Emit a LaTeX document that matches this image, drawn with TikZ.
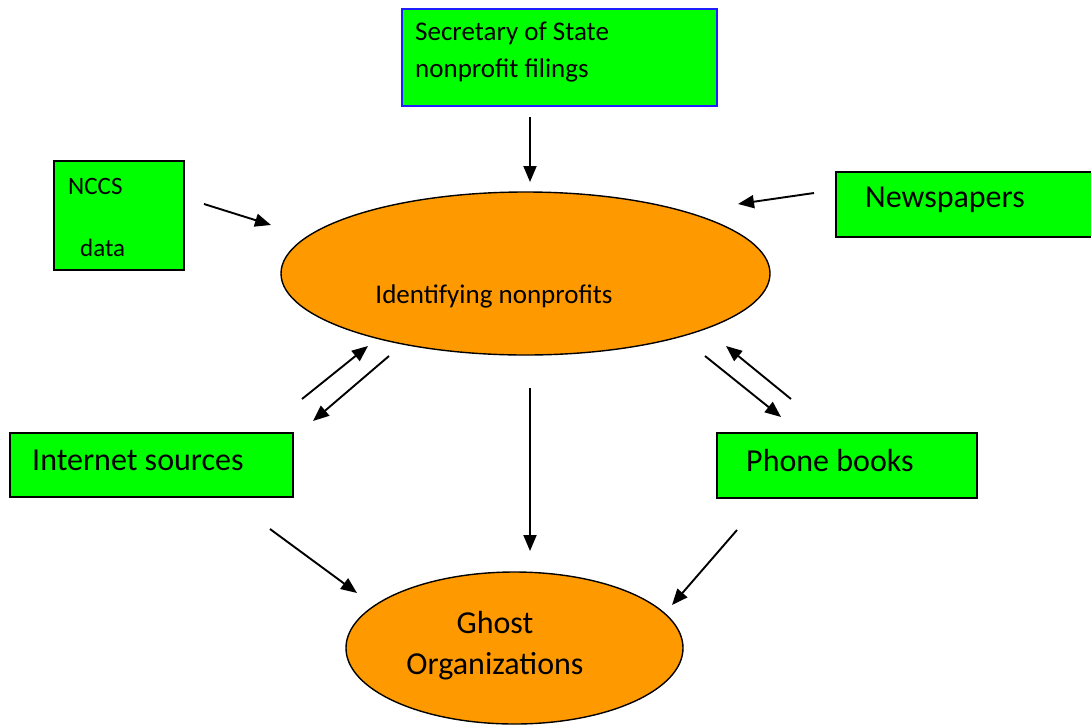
\documentclass[tikz,border=0pt]{standalone}
\usepackage{fontspec}
\setmainfont{Carlito}
\usetikzlibrary{arrows.meta,shapes.geometric}
\definecolor{boxgreen}{RGB}{0,255,0}
\definecolor{ovalorange}{RGB}{255,153,0}
\definecolor{sosblue}{RGB}{30,30,255}
\tikzset{
  srcbox/.style={draw=black, fill=boxgreen, line width=1.6pt},
  oval/.style={ellipse, draw=black, fill=ovalorange, line width=1.4pt, inner sep=0pt},
  lbl/.style={anchor=west, inner sep=0pt, text=black},
  flow/.style={line width=1.9pt, -{Triangle[length=16pt,width=13pt]}},
  big/.style={font=\fontsize{32}{38}\selectfont},
  mid/.style={font=\fontsize{27}{32}\selectfont},
  small/.style={font=\fontsize{25}{30}\selectfont}
}
\begin{document}
\begin{tikzpicture}[x=1pt,y=-1pt]
\useasboundingbox (0,0) rectangle (1091,726);

% source boxes
\node[srcbox, draw=sosblue, minimum width=315pt, minimum height=97pt, anchor=north west, inner sep=0pt] (sos) at (401,8) {};
\node[srcbox, minimum width=130pt, minimum height=109pt, anchor=north west, inner sep=0pt] (nccs) at (53,160) {};
\node[srcbox, minimum width=262pt, minimum height=65pt, anchor=north west, inner sep=0pt] (news) at (835,171) {};
\node[srcbox, minimum width=283pt, minimum height=64pt, anchor=north west, inner sep=0pt] (inet) at (9,432) {};
\node[srcbox, minimum width=260pt, minimum height=65pt, anchor=north west, inner sep=0pt] (phone) at (716,432) {};

% box labels
\node[lbl, mid] (sos1) at (415,33) {Secretary of State};
\node[lbl, mid] (sos2) at (415,70) {nonprofit filings};
\node[lbl, small] (nccs1) at (68,186) {NCCS};
\node[lbl, small] (nccs2) at (80,248) {data};
\node[lbl, big] (newsl) at (865,200) {Newspapers};
\node[lbl, big] (inetl) at (32,460) {Internet sources};
\node[lbl, big] (phonel) at (746,460) {Phone books};

% ovals
\node[oval, minimum width=489pt, minimum height=163pt] (ident) at (525.5,273.5) {};
\node[oval, minimum width=337pt, minimum height=152pt] (ghost) at (514.5,648) {};
\node[mid, inner sep=0pt] (identl) at (494,296) {Identifying nonprofits};
\node[big, inner sep=0pt] (ghost1) at (495,622) {Ghost};
\node[big, inner sep=0pt] (ghost2) at (495,666) {Organizations};

% connector end points
\coordinate (a1) at (530,117); \coordinate (a2) at (530,182);
\coordinate (b1) at (204,204); \coordinate (b2) at (271,225);
\coordinate (c1) at (814,193); \coordinate (c2) at (738,204);
\coordinate (d1) at (302,399); \coordinate (d2) at (368,346);
\coordinate (e1) at (389,356); \coordinate (e2) at (313,421);
\coordinate (f1) at (705,356); \coordinate (f2) at (781,417);
\coordinate (g1) at (791,399); \coordinate (g2) at (726,346);
\coordinate (h1) at (530,388); \coordinate (h2) at (530,551);
\coordinate (i1) at (270,529); \coordinate (i2) at (357,593);
\coordinate (j1) at (737,530); \coordinate (j2) at (672,605);

% connectors
\draw[flow] (a1) -- (a2);
\draw[flow] (b1) -- (b2);
\draw[flow] (c1) -- (c2);
\draw[flow] (d1) -- (d2);
\draw[flow] (e1) -- (e2);
\draw[flow] (f1) -- (f2);
\draw[flow] (g1) -- (g2);
\draw[flow] (h1) -- (h2);
\draw[flow] (i1) -- (i2);
\draw[flow] (j1) -- (j2);
\end{tikzpicture}
\end{document}
